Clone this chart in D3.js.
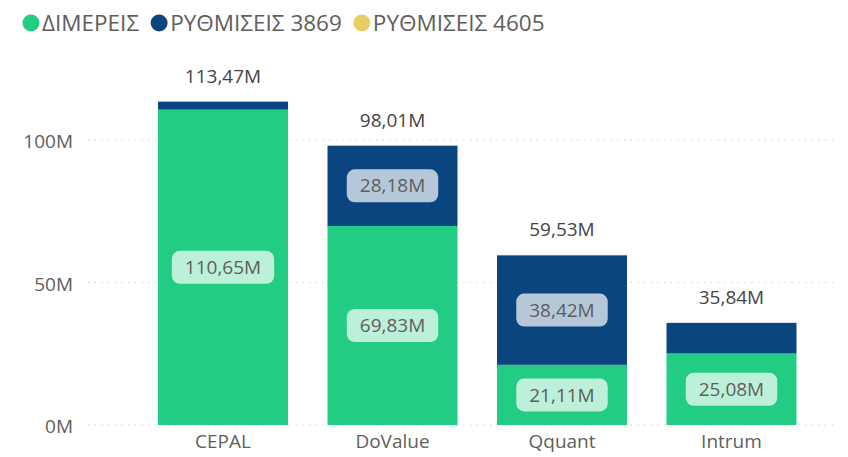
<!DOCTYPE html>
<html><head><meta charset="utf-8">
<script src="https://cdn.jsdelivr.net/npm/d3@7"></script>
<style>body{margin:0;background:#fff;}svg{display:block;font-family:"Open Sans","Segoe UI",sans-serif;}</style>
</head><body><svg id="c" width="848" height="457"></svg>
<script>
const categories = ["CEPAL", "DoValue", "Qquant", "Intrum"];
const seriesNames = ["ΔΙΜΕΡΕΙΣ", "ΡΥΘΜΙΣΕΙΣ 3869", "ΡΥΘΜΙΣΕΙΣ 4605"];
const dimereis = [110.65, 69.83, 21.11, 25.08];
const rythmiseis3869 = [2.82, 28.18, 38.42, 10.76];
const rythmiseis4605 = [0, 0, 0, 0];
const colors = ["#22CC82", "#0B4580", "#E8CF62"];
const yTicks = [0, 50, 100];

const svg = d3.select("#c");
const fmt = v => d3.format(".2f")(v).replace(".", ",") + "M";
const textColor = "#605E5C";

const x = d3.scaleBand().domain(categories).range([88, 866.5]).paddingInner(0.233).paddingOuter(0.413);
const y = d3.scaleLinear().domain([0, 100]).range([425, 140]);

// legend
const legend = svg.append("g");
let lx = 31;
seriesNames.forEach((n, i) => {
  legend.append("circle").attr("cx", lx).attr("cy", 23).attr("r", 8.5).attr("fill", colors[i]);
  const t = legend.append("text").attr("x", lx + 11).attr("y", 31).attr("font-size", 22.5)
    .attr("fill", textColor).text(n);
  lx += 11 + t.node().getComputedTextLength() + 20;
});

// gridlines
svg.append("g").selectAll("line").data(yTicks).join("line")
  .attr("x1", 88).attr("x2", 835).attr("y1", d => y(d)).attr("y2", d => y(d))
  .attr("stroke", "#C8C8C8").attr("stroke-width", 1.2).attr("stroke-dasharray", "1.2,5.5");

// y axis labels
const yAxis = d3.axisLeft(y).tickValues(yTicks).tickFormat(d => d + "M").tickSize(0).tickPadding(0);
const ya = svg.append("g").attr("transform", "translate(73,1)").call(yAxis);
ya.select(".domain").remove();
ya.selectAll("text").attr("font-size", 19).attr("fill", textColor).attr("font-family", "'Open Sans',sans-serif").attr("dy", "0.35em");

// x axis labels
const xAxis = d3.axisBottom(x).tickSize(0).tickPadding(0);
const xa = svg.append("g").attr("transform", "translate(0,434)").call(xAxis);
xa.select(".domain").remove();
xa.selectAll("text").attr("font-size", 19).attr("fill", textColor).attr("font-family", "'Open Sans',sans-serif").attr("dy", "0.71em");

// stack
const rows = categories.map((c, i) => ({cat: c, s0: dimereis[i], s1: rythmiseis3869[i], s2: rythmiseis4605[i]}));
const stack = d3.stack().keys(["s0", "s1", "s2"]);
const layers = stack(rows);

layers.forEach((layer, li) => {
  svg.append("g").selectAll("rect").data(layer).join("rect")
    .attr("x", d => x(d.data.cat)).attr("width", x.bandwidth())
    .attr("y", d => y(d[1])).attr("height", d => Math.max(0, y(d[0]) - y(d[1])))
    .attr("fill", colors[li]);
});

// segment labels
layers.forEach((layer, li) => {
  layer.forEach(d => {
    const v = d[1] - d[0];
    if (y(d[0]) - y(d[1]) < 36) return;
    const cx = x(d.data.cat) + x.bandwidth() / 2;
    const cy = (y(d[0]) + y(d[1])) / 2;
    const g = svg.append("g");
    const t = g.append("text").attr("x", cx).attr("y", cy).attr("dy", "0.35em")
      .attr("text-anchor", "middle").attr("font-size", 19).attr("fill", textColor).text(fmt(v));
    const w = t.node().getComputedTextLength() + 26;
    g.insert("rect", "text").attr("x", cx - w / 2).attr("y", cy - 16.5).attr("width", w).attr("height", 33)
      .attr("rx", 8).attr("fill", "#fff").attr("fill-opacity", 0.7);
  });
});

// totals
svg.append("g").selectAll("text").data(rows).join("text")
  .attr("x", d => x(d.cat) + x.bandwidth() / 2)
  .attr("y", d => y(d.s0 + d.s1 + d.s2) - 19)
  .attr("text-anchor", "middle").attr("font-size", 19).attr("fill", "#444")
  .text(d => fmt(d.s0 + d.s1 + d.s2));
</script></body></html>
